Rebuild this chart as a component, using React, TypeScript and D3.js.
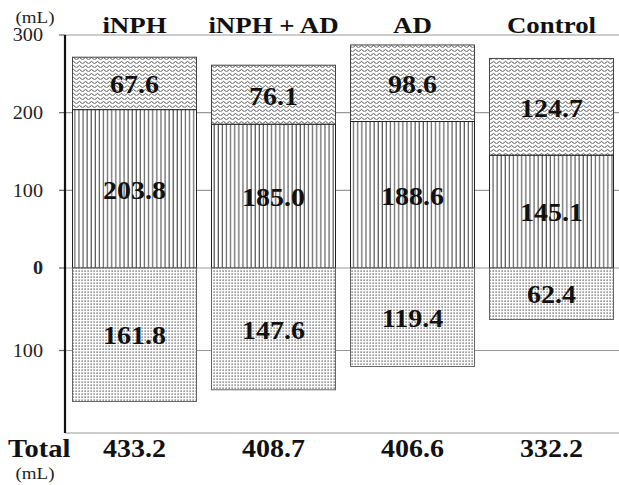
import React from 'react';
import * as d3 from 'd3';

const width = 619;
const height = 485;
const font = "'Liberation Serif', 'Times New Roman', Times, serif";
const stretch = 1.12; // the reference text is a little wider than it is tall

const categories = ['iNPH', 'iNPH + AD', 'AD', 'Control'];
const upperValues = [67.6, 76.1, 98.6, 124.7];
const middleValues = [203.8, 185.0, 188.6, 145.1];
const lowerValues = [161.8, 147.6, 119.4, 62.4];
const totals = ['433.2', '408.7', '406.6', '332.2'];
const yTicks = [300, 200, 100, 0, -100];

const axisX = 65;

type WideTextProps = {
  x: number;
  y: number;
  size: number;
  bold?: boolean;
  anchor?: 'start' | 'middle' | 'end';
  dy?: string;
  fill?: string;
  children: React.ReactNode;
};

const WideText: React.FC<WideTextProps> = ({x, y, size, bold, anchor = 'middle', dy, fill = '#111', children}) => (
  <g transform={`translate(${x},${y}) scale(${stretch},1)`}>
    <text textAnchor={anchor} fontSize={size} fontWeight={bold ? 'bold' : 'normal'}
      dy={dy} fill={fill}>{children}</text>
  </g>
);

const App: React.FC = () => {
  const xScale = d3.scaleBand<string>()
    .domain(categories)
    .range([axisX, 621])
    .paddingInner(0.108)
    .paddingOuter(0.054);

  // the picture uses a slightly larger step below zero than above it
  const yScale = d3.scaleLinear()
    .domain([-200, 0, 300])
    .range([433, 268, 35]);

  const bw = xScale.bandwidth();

  return (
    <svg width={width} height={height} fontFamily={font}
      style={{position: 'absolute', left: 0, top: 0}}>
      <defs>
        <pattern id="wave" width={6} height={4} patternUnits="userSpaceOnUse">
          <rect width={6} height={4} fill="#fff" />
          <path d="M0 2.6 Q1.5 0.2 3 2.6 T6 2.6" fill="none" stroke="#555" strokeWidth={1} />
        </pattern>
        <pattern id="vlines" width={4.1} height={4} patternUnits="userSpaceOnUse">
          <rect width={4.1} height={4} fill="#fff" />
          <line x1={1} y1={0} x2={1} y2={4} stroke="#3a3a3a" strokeWidth={1} />
        </pattern>
        <pattern id="dots" width={3} height={3} patternUnits="userSpaceOnUse">
          <rect width={3} height={3} fill="#fff" />
          <rect x={0.5} y={0.5} width={1.2} height={1.2} fill="#3a3a3a" />
        </pattern>
      </defs>

      {/* gridlines */}
      {[...yTicks, -200].map(t => (
        <line key={t} x1={axisX} x2={width} y1={yScale(t)} y2={yScale(t)}
          stroke="#999" strokeWidth={1.2} />
      ))}
      {yTicks.map(t => (
        <line key={'tk' + t} x1={axisX - 6} x2={axisX} y1={yScale(t)} y2={yScale(t)}
          stroke="#666" strokeWidth={1.2} />
      ))}

      {/* bars */}
      {categories.map((c, i) => {
        const x = xScale(c) as number;
        const mid = middleValues[i];
        const top = mid + upperValues[i];
        const low = -lowerValues[i];
        const segs = [
          {y0: mid, y1: top, fill: 'url(#wave)', stroke: '#444', v: upperValues[i]},
          {y0: 0, y1: mid, fill: 'url(#vlines)', stroke: '#222', v: middleValues[i]},
          {y0: low, y1: 0, fill: 'url(#dots)', stroke: '#666', v: lowerValues[i]},
        ];
        const cx = x + bw / 2;
        return (
          <g key={c}>
            {segs.map((s, j) => (
              <rect key={j} x={x} width={bw} y={yScale(s.y1)}
                height={yScale(s.y0) - yScale(s.y1)}
                fill={s.fill} stroke={s.stroke} strokeWidth={1} />
            ))}
            {segs.map((s, j) => (
              <WideText key={'l' + j} x={cx} y={(yScale(s.y0) + yScale(s.y1)) / 2 + 1}
                dy="0.35em" size={25} bold>
                {s.v.toFixed(1)}
              </WideText>
            ))}
            <WideText x={cx} y={33} size={24} bold>{c}</WideText>
            <WideText x={cx} y={457} size={25} bold>{totals[i]}</WideText>
          </g>
        );
      })}

      {/* y axis */}
      <line x1={axisX} x2={axisX} y1={yScale(300)} y2={yScale(-200)}
        stroke="#111" strokeWidth={2.2} />
      {yTicks.map(t => (
        <WideText key={'yl' + t} x={43} y={yScale(t)} dy="0.35em" anchor="end"
          size={18} bold={t === 0} fill="#222">
          {Math.abs(t)}
        </WideText>
      ))}
      <WideText x={35} y={23} size={17} fill="#222">(mL)</WideText>
      <WideText x={8} y={457} size={25.5} bold anchor="start">Total</WideText>
      <WideText x={35} y={479} size={17} fill="#222">(mL)</WideText>
    </svg>
  );
};

export default App;
